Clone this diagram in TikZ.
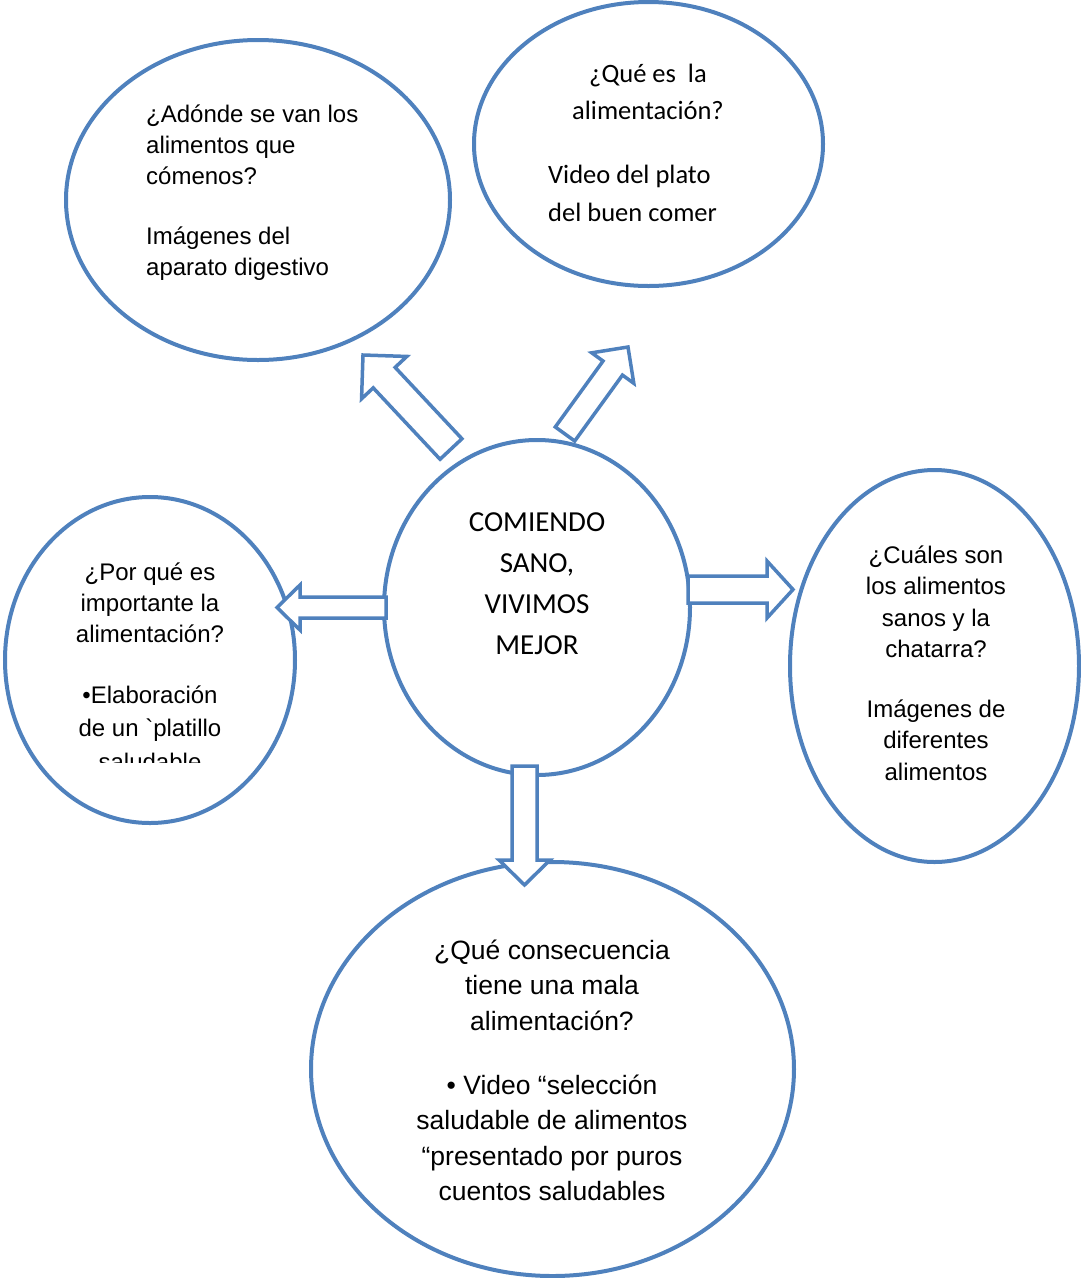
\documentclass[tikz,border=0pt]{standalone}
\usepackage{fontspec}
\newfontfamily\arial{Liberation Sans}
\newfontfamily\calibri{Carlito}
\usetikzlibrary{calc,shapes.geometric}
\definecolor{azulw}{RGB}{79,129,189}
\tikzset{
  burbuja/.style={
    ellipse,
    draw=azulw, line width=4pt,
    inner sep=0pt},
  flecha/.style={draw=azulw, line width=3.5pt, fill=white},
  textoa/.style={font=\arial\fontsize{24}{31}\selectfont, inner sep=0pt},
  textob/.style={font=\arial\fontsize{26.5}{35.5}\selectfont, inner sep=0pt, align=center},
  textoc/.style={font=\calibri\fontsize{26.5}{37.5}\selectfont, inner sep=0pt},
  textod/.style={font=\calibri\fontsize{29}{41}\selectfont, inner sep=0pt, align=center}
}
% cola, punta, medio cuerpo, media cabeza, largo cabeza
\newcommand{\flecha}[5]{%
  \coordinate (#2-base) at ($(#2)!#5!(#1)$);
  \draw[flecha] ($(#1)!#3!90:(#2)$) -- ($(#2-base)!#3!-90:(#1)$)
                -- ($(#2-base)!#4!-90:(#1)$)
                -- (#2)
                -- ($(#2-base)!#4!90:(#1)$)
                -- ($(#2-base)!#3!90:(#1)$)
                -- ($(#1)!#3!-90:(#2)$) -- cycle;
}

\begin{document}
\begin{tikzpicture}[x=1pt, y=-1pt]
    \useasboundingbox (0,0) rectangle (1081,1278);

    \node[burbuja, minimum width=384pt, minimum height=320pt] (adonde) at (258,200) {};
    \node[burbuja, minimum width=349pt, minimum height=284pt] (quees) at (648.5,144) {};
    \node[burbuja, minimum width=306pt, minimum height=335pt] (centro) at (537,607.5) {};
    \node[burbuja, minimum width=290pt, minimum height=326pt] (importa) at (150,660) {};
    \node[burbuja, minimum width=289pt, minimum height=392pt] (cuales) at (934.5,666) {};
    \node[burbuja, minimum width=483pt, minimum height=414pt] (consec) at (552.5,1069) {};

    \node[textoa, align=left, anchor=north west] (adonde-txt) at (146,104.5)
        {¿Adónde se van los\\alimentos que\\cómenos?\\[29pt]Imágenes del\\aparato digestivo};

    \node[textoc, align=center, anchor=north] (quees-txt) at (648,63.5)
        {¿Qué es\ \ la\\alimentación?};
    \node[textoc, align=left, anchor=north west] (plato-txt) at (548,165)
        {Video del plato\\del buen comer};

    \node[textod, anchor=north] (centro-txt) at (537,512)
        {COMIENDO\\SANO,\\VIVIMOS\\MEJOR};

    \begin{scope}
        \clip (0,0) rectangle (1081,762);
        \node[textoa, align=center, anchor=north] (importa-txt) at (150,562.5)
            {¿Por qué es\\importante la\\alimentación?\\[30pt]•Elaboración\\[2pt]de un `platillo\\[3pt]saludable};
    \end{scope}

    \node[textoa, font=\arial\fontsize{24}{31.5}\selectfont, align=center, anchor=north] (cuales-txt) at (936,545.5)
        {¿Cuáles son\\los alimentos\\sanos y la\\chatarra?\\[28pt]Imágenes de\\diferentes\\alimentos};

    \node[textob, anchor=north] (consec-txt) at (552,939.5)
        {¿Qué consecuencia\\tiene una mala\\alimentación?\\[28.5pt]• Video “selección\\saludable de alimentos\\“presentado por puros\\cuentos saludables};

    %%% flechas
    \coordinate (cola-adonde) at (451,449);
    \coordinate (punta-adonde) at (363,355);
    \coordinate (cola-quees) at (565,434);
    \coordinate (punta-quees) at (628,347);
    \coordinate (cola-importa) at (386,607.5);
    \coordinate (punta-importa) at (277,607.5);
    \coordinate (cola-cuales) at (688,589.5);
    \coordinate (punta-cuales) at (793,589.5);
    \coordinate (cola-consec) at (524.5,766);
    \coordinate (punta-consec) at (524.5,885);

    \flecha{cola-adonde}{punta-adonde}{15pt}{31pt}{31pt}
    \flecha{cola-quees}{punta-quees}{12pt}{26pt}{26pt}
    \flecha{cola-importa}{punta-importa}{10.5pt}{22.5pt}{23pt}
    \flecha{cola-cuales}{punta-cuales}{13.5pt}{28.5pt}{26pt}
    \flecha{cola-consec}{punta-consec}{12.5pt}{25.5pt}{25pt}
\end{tikzpicture}
\end{document}
